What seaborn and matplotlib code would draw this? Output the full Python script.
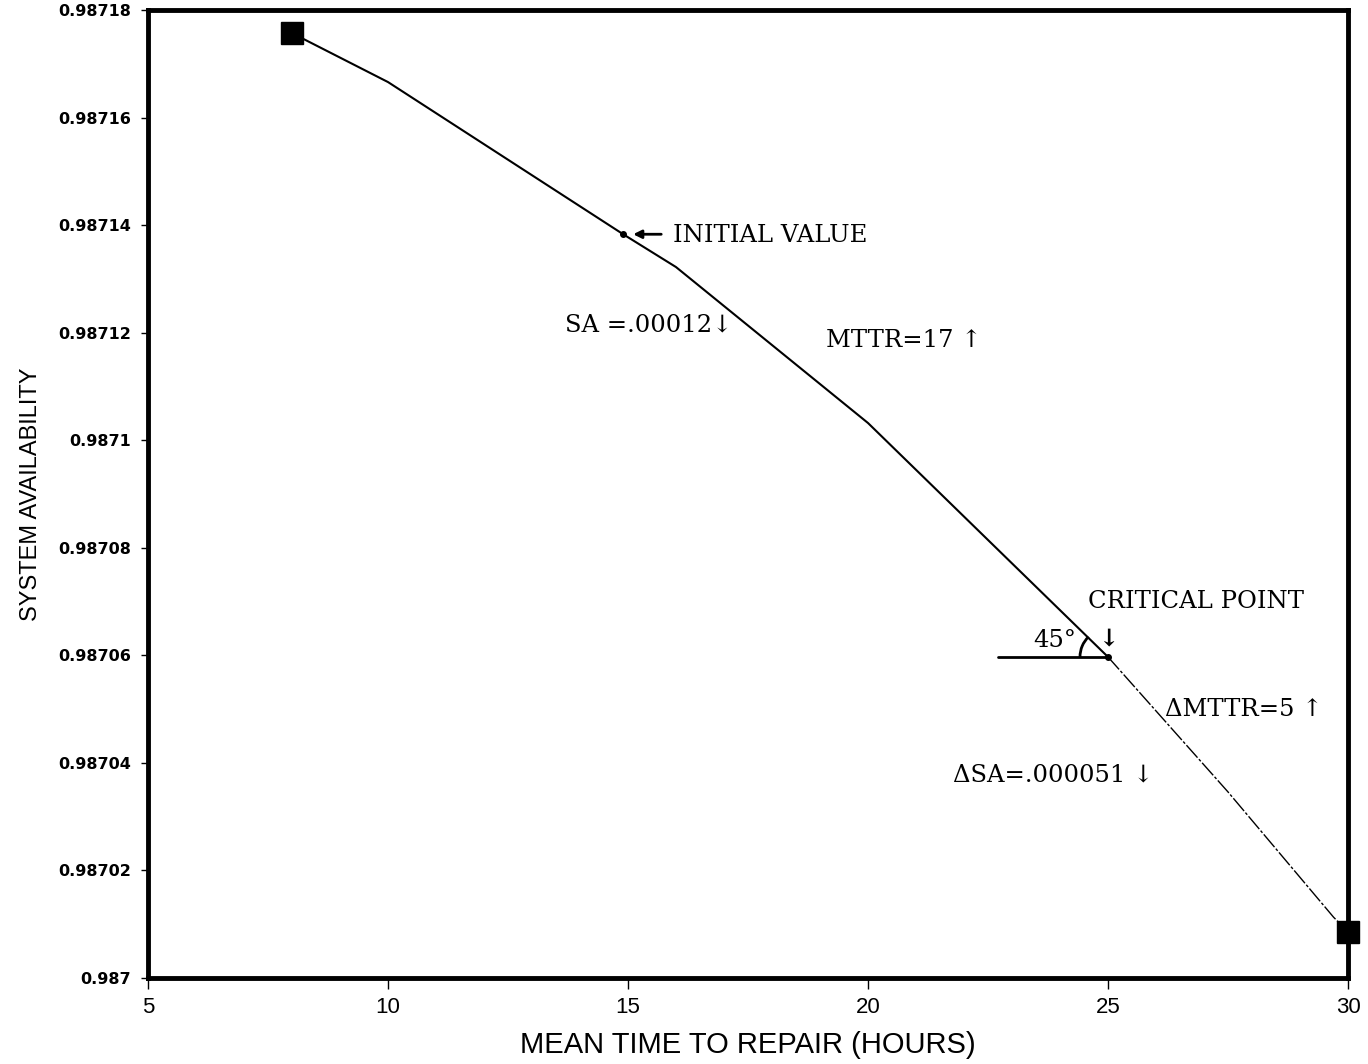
import matplotlib
matplotlib.use("Agg")
import matplotlib.pyplot as plt
import seaborn as sns
import pandas as pd
from matplotlib.patches import Arc
from matplotlib.transforms import ScaledTranslation

# ---- data ----
mttr_solid = [8, 10, 14.9, 16, 20, 25]
sa_solid = [0.9871757, 0.9871666, 0.9871383, 0.9871322, 0.9871032, 0.9870597]
mttr_dash = [25, 27.5, 29.7, 30]
sa_dash = [0.9870597, 0.9870346, 0.9870113, 0.9870086]
end_x = [8, 30]
end_y = [0.9871757, 0.9870086]
init_x, init_y = 14.9, 0.9871383
crit_x, crit_y = 25, 0.9870597

x_ticks = [5, 10, 15, 20, 25, 30]
x_ticklabels = ["5", "10", "15", "20", "25", "30"]
y_ticks = [0.987, 0.98702, 0.98704, 0.98706, 0.98708, 0.9871, 0.98712, 0.98714, 0.98716, 0.98718]
y_ticklabels = ["0.987", "0.98702", "0.98704", "0.98706", "0.98708", "0.9871",
                "0.98712", "0.98714", "0.98716", "0.98718"]

sns.set_style("ticks", {"axes.edgecolor": "black", "xtick.color": "black",
                        "ytick.color": "black", "text.color": "black",
                        "axes.labelcolor": "black"})
plt.rcParams["font.family"] = ["DejaVu Sans"]

fig = plt.figure(figsize=(13.68, 10.64), dpi=100)
ax = fig.add_axes([148/1368, 1 - 978/1064, 1200/1368, 968/1064])

df1 = pd.DataFrame({"x": mttr_solid, "y": sa_solid})
df2 = pd.DataFrame({"x": mttr_dash, "y": sa_dash})
sns.lineplot(data=df1, x="x", y="y", ax=ax, color="black", lw=1.5, estimator=None, sort=False)
sns.lineplot(data=df2, x="x", y="y", ax=ax, color="black", lw=1.0, estimator=None, sort=False,
             linestyle=(0, (12, 1.5, 2, 1.5)))
ax.plot(end_x, end_y, ls="none", marker="s", ms=16, color="black", clip_on=False, zorder=5)
ax.plot([init_x, crit_x], [init_y, crit_y], ls="none", marker="o", ms=4, color="black", zorder=5)

ax.set_xlim(5, 30)
ax.set_ylim(0.987, 0.98718)
ax.set_xticks(x_ticks)
ax.set_xticklabels(x_ticklabels)
ax.set_yticks(y_ticks)
ax.set_yticklabels(y_ticklabels)

for s in ax.spines.values():
    s.set_linewidth(3.5)
    s.set_visible(True)
    s.set_color("black")

ax.tick_params(axis="y", direction="out", length=5, width=1, pad=7, colors="black")
ax.tick_params(axis="x", direction="out", length=8, width=1, pad=6, colors="black")
for lab in ax.get_yticklabels():
    lab.set_fontfamily("DejaVu Sans")
    lab.set_fontweight("bold")
    lab.set_fontsize(11.5)
sans = ["Liberation Sans", "DejaVu Sans"]
for lab in ax.get_xticklabels():
    lab.set_fontfamily(sans)
    lab.set_fontsize(16)

ax.set_xlabel("MEAN TIME TO REPAIR (HOURS)", fontsize=21, family=sans, labelpad=9)
ax.set_ylabel("SYSTEM AVAILABILITY", fontsize=17, family=sans, labelpad=12)

serif = ["DejaVu Serif", "DejaVu Sans"]
fs = 17.5
ax.annotate("", xy=(15.05, init_y), xytext=(15.75, init_y),
            arrowprops=dict(arrowstyle="-|>", lw=2, color="black", mutation_scale=12))
ax.text(15.94, 0.987138, "INITIAL VALUE", family=serif, fontsize=fs, va="center", ha="left")
ax.text(13.69, 0.9871214, "SA =.00012\u2193", family=serif, fontsize=fs, va="center", ha="left")
ax.text(19.12, 0.9871185, "MTTR=17 \u2191", family=serif, fontsize=fs, va="center", ha="left")
ax.text(24.58, 0.9870701, "CRITICAL POINT", family=serif, fontsize=fs, va="center", ha="left")
ax.text(23.45, 0.9870627, "45\u00b0", family=serif, fontsize=fs, va="center", ha="left")
ax.text(25.02, 0.9870631, "\u2193", family=serif, fontsize=fs, va="center", ha="center",
        fontweight="bold")
ax.text(26.19, 0.9870500, "\u0394MTTR=5 \u2191", family=serif, fontsize=fs, va="center", ha="left")
ax.text(21.77, 0.9870378, "\u0394SA=.000051 \u2193", family=serif, fontsize=fs, va="center", ha="left")

# angle marker at the critical point
ax.plot([22.7, crit_x], [crit_y, crit_y], color="black", lw=2)
arc_tr = fig.dpi_scale_trans + ScaledTranslation(crit_x, crit_y, ax.transData)
ax.add_patch(Arc((0, 0), 0.56, 0.56, theta1=134, theta2=180, transform=arc_tr,
                 color="black", lw=2))

fig.savefig("out.png", dpi=100)
